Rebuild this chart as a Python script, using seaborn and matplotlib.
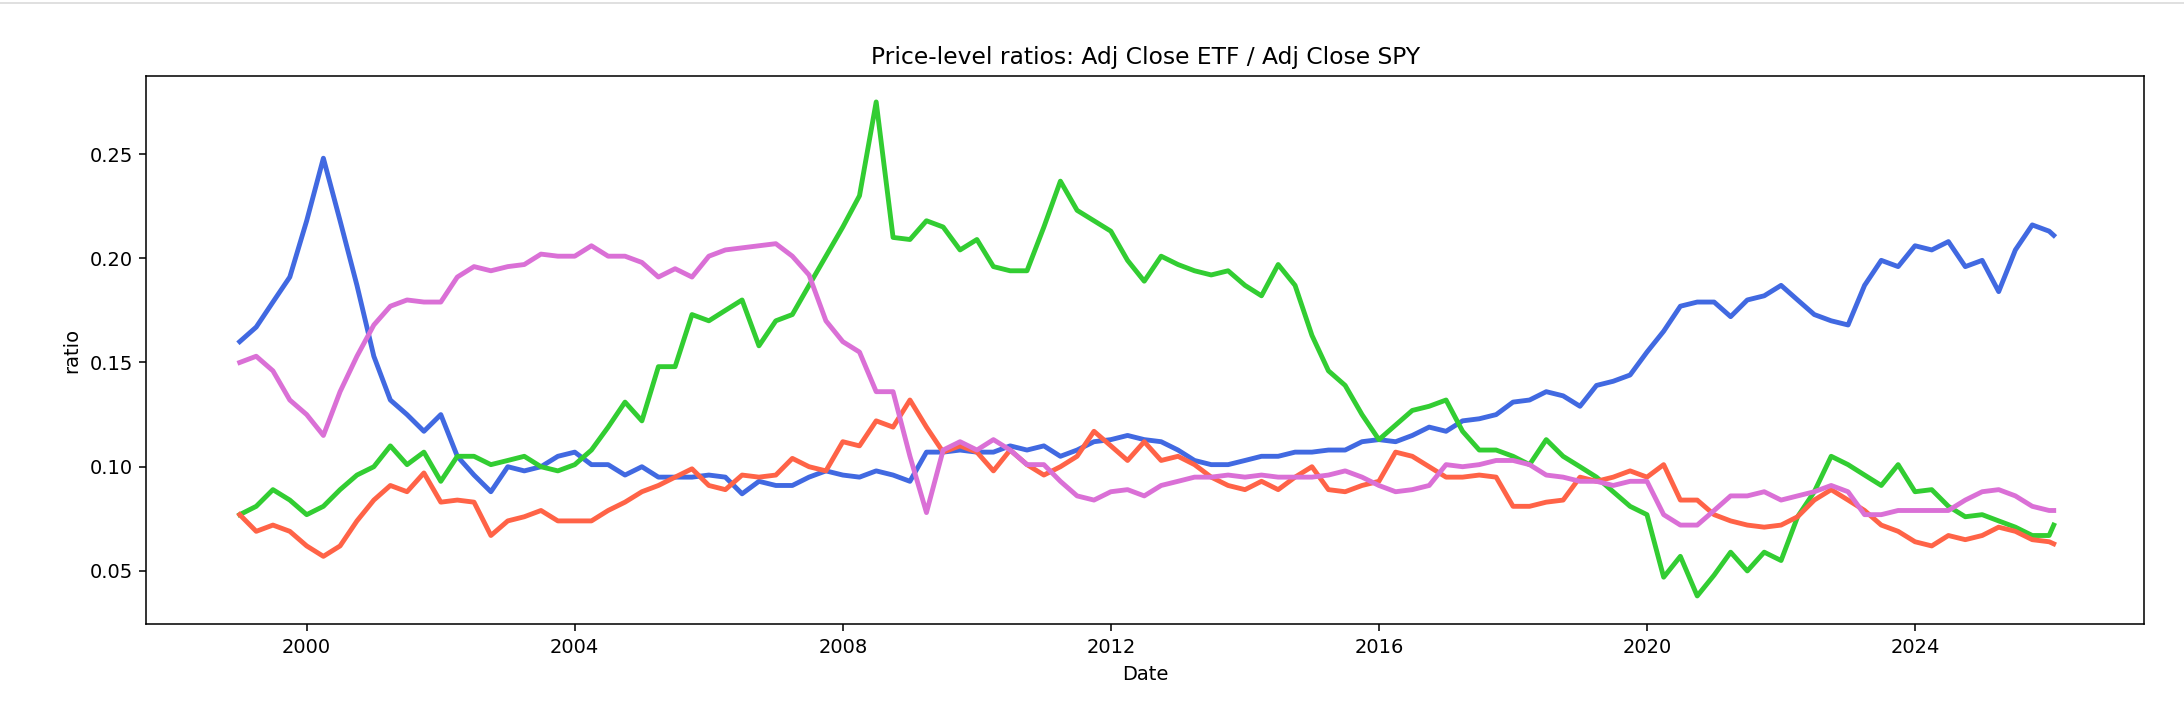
import matplotlib
matplotlib.use("Agg")
from matplotlib import pyplot as plt
from matplotlib.lines import Line2D
import seaborn as sns
import pandas as pd

# quarterly readings, Jan 1999 .. Jan 2026, plus last trading day
dates = list(pd.date_range("1999-01-01", "2026-01-01", freq="QS")) + [pd.Timestamp("2026-01-26")]

xlk = [0.160, 0.167, 0.179, 0.191, 0.218, 0.248, 0.218, 0.187, 0.153, 0.132, 0.125, 0.117, 0.125, 0.105, 0.096, 0.088, 0.100, 0.098, 0.100,
       0.105, 0.107, 0.101, 0.101, 0.096, 0.100, 0.095, 0.095, 0.095, 0.096, 0.095, 0.087, 0.093, 0.091, 0.091, 0.095, 0.098, 0.096,
       0.095, 0.098, 0.096, 0.093, 0.107, 0.107, 0.108, 0.107, 0.107, 0.110, 0.108, 0.110, 0.105, 0.108, 0.112, 0.113, 0.115, 0.113, 0.112,
       0.108, 0.103, 0.101, 0.101, 0.103, 0.105, 0.105, 0.107, 0.107, 0.108, 0.108, 0.112, 0.113, 0.112, 0.115, 0.119, 0.117, 0.122,
       0.123, 0.125, 0.131, 0.132, 0.136, 0.134, 0.129, 0.139, 0.141, 0.144, 0.155, 0.165, 0.177, 0.179, 0.179, 0.172, 0.180, 0.182, 0.187,
       0.180, 0.173, 0.170, 0.168, 0.187, 0.199, 0.196, 0.206, 0.204, 0.208, 0.196, 0.199, 0.184, 0.204, 0.216, 0.213, 0.211]
xle = [0.077, 0.081, 0.089, 0.084, 0.077, 0.081, 0.089, 0.096, 0.100, 0.110, 0.101, 0.107, 0.093, 0.105, 0.105, 0.101, 0.103, 0.105, 0.100,
       0.098, 0.101, 0.108, 0.119, 0.131, 0.122, 0.148, 0.148, 0.173, 0.170, 0.175, 0.180, 0.158, 0.170, 0.173, 0.187, 0.201, 0.215,
       0.230, 0.275, 0.210, 0.209, 0.218, 0.215, 0.204, 0.209, 0.196, 0.194, 0.194, 0.215, 0.237, 0.223, 0.218, 0.213, 0.199, 0.189, 0.201,
       0.197, 0.194, 0.192, 0.194, 0.187, 0.182, 0.197, 0.187, 0.163, 0.146, 0.139, 0.125, 0.113, 0.120, 0.127, 0.129, 0.132, 0.117,
       0.108, 0.108, 0.105, 0.101, 0.113, 0.105, 0.100, 0.095, 0.088, 0.081, 0.077, 0.047, 0.057, 0.038, 0.048, 0.059, 0.050, 0.059, 0.055,
       0.076, 0.088, 0.105, 0.101, 0.096, 0.091, 0.101, 0.088, 0.089, 0.081, 0.076, 0.077, 0.074, 0.071, 0.067, 0.067, 0.072]
xlu = [0.077, 0.069, 0.072, 0.069, 0.062, 0.057, 0.062, 0.074, 0.084, 0.091, 0.088, 0.097, 0.083, 0.084, 0.083, 0.067, 0.074, 0.076, 0.079,
       0.074, 0.074, 0.074, 0.079, 0.083, 0.088, 0.091, 0.095, 0.099, 0.091, 0.089, 0.096, 0.095, 0.096, 0.104, 0.100, 0.098, 0.112,
       0.110, 0.122, 0.119, 0.132, 0.119, 0.107, 0.110, 0.107, 0.098, 0.108, 0.101, 0.096, 0.100, 0.105, 0.117, 0.110, 0.103, 0.112, 0.103,
       0.105, 0.101, 0.095, 0.091, 0.089, 0.093, 0.089, 0.095, 0.100, 0.089, 0.088, 0.091, 0.093, 0.107, 0.105, 0.100, 0.095, 0.095,
       0.096, 0.095, 0.081, 0.081, 0.083, 0.084, 0.095, 0.093, 0.095, 0.098, 0.095, 0.101, 0.084, 0.084, 0.077, 0.074, 0.072, 0.071, 0.072,
       0.076, 0.084, 0.089, 0.084, 0.079, 0.072, 0.069, 0.064, 0.062, 0.067, 0.065, 0.067, 0.071, 0.069, 0.065, 0.064, 0.063]
xlf = [0.150, 0.153, 0.146, 0.132, 0.125, 0.115, 0.136, 0.153, 0.168, 0.177, 0.180, 0.179, 0.179, 0.191, 0.196, 0.194, 0.196, 0.197, 0.202,
       0.201, 0.201, 0.206, 0.201, 0.201, 0.198, 0.191, 0.195, 0.191, 0.201, 0.204, 0.205, 0.206, 0.207, 0.201, 0.192, 0.170, 0.160,
       0.155, 0.136, 0.136, 0.105, 0.078, 0.108, 0.112, 0.108, 0.113, 0.108, 0.101, 0.101, 0.093, 0.086, 0.084, 0.088, 0.089, 0.086, 0.091,
       0.093, 0.095, 0.095, 0.096, 0.095, 0.096, 0.095, 0.095, 0.095, 0.096, 0.098, 0.095, 0.091, 0.088, 0.089, 0.091, 0.101, 0.100,
       0.101, 0.103, 0.103, 0.101, 0.096, 0.095, 0.093, 0.093, 0.091, 0.093, 0.093, 0.077, 0.072, 0.072, 0.079, 0.086, 0.086, 0.088, 0.084,
       0.086, 0.088, 0.091, 0.088, 0.077, 0.077, 0.079, 0.079, 0.079, 0.079, 0.084, 0.088, 0.089, 0.086, 0.081, 0.079, 0.079]

series = {"XLK": xlk, "XLE": xle, "XLU": xlu, "XLF": xlf}
colors = {"XLK": "royalblue", "XLE": "limegreen", "XLU": "tomato", "XLF": "orchid"}

# %
rows = []
for name, vals in series.items():
    for d, v in zip(dates, vals):
        rows.append({"Date": d, "ratio": v, "ETF": name})
df = pd.DataFrame(rows)

fig = plt.figure(figsize=(2184 / 140, 718 / 140), dpi=140)
ax = fig.add_axes([0.0670, 0.1305, 0.9146, 0.7641])
sns.lineplot(data=df, x="Date", y="ratio", hue="ETF", palette=colors, legend=False, linewidth=2.5, ax=ax)
ax.set_ylim(0.0244, 0.2876)
ax.set_xlim(pd.Timestamp("1997-08-10"), pd.Timestamp("2027-06-01"))
ax.set_title("Price-level ratios: Adj Close ETF / Adj Close SPY")
fig.add_artist(Line2D([0, 1], [0.996, 0.996], color="#e0e0e0", linewidth=1, transform=fig.transFigure))
fig.savefig("out.png", dpi=140)
